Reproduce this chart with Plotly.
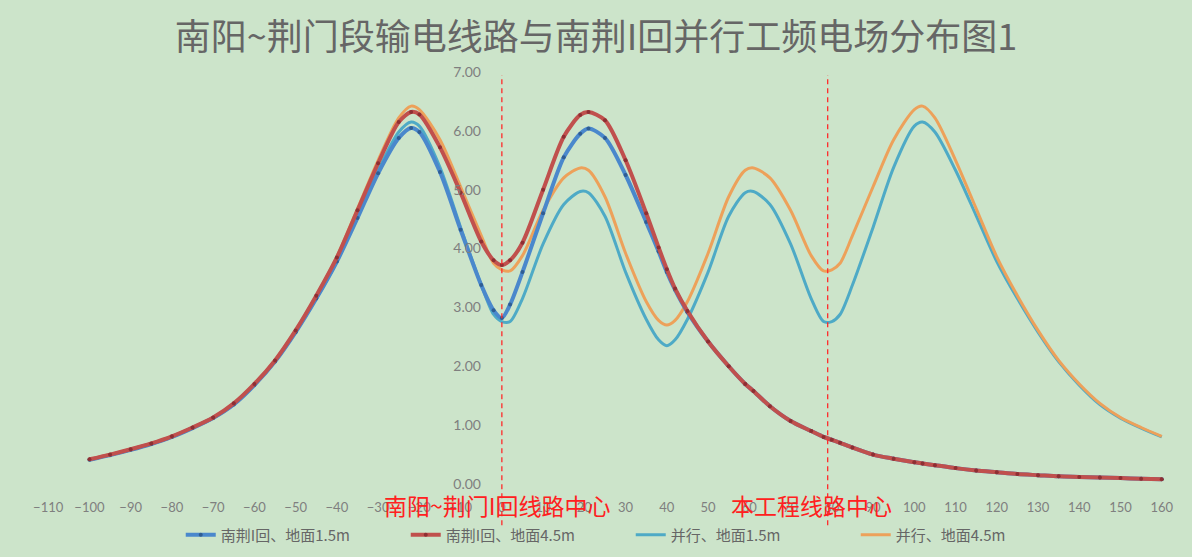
import plotly.graph_objects as go

# Distance from the Nanjing I line centre (m)
dist_m = [-100, -95, -90, -85, -80, -75, -70, -65, -60, -55, -50, -45, -40, -35, -30, -25,
          -22, -20, -15, -10, -5, -2, 0, 2, 5, 10, 15, 19, 21, 25, 30, 35, 38, 40, 42, 45,
          50, 55, 59, 61, 65, 70, 75, 78, 80, 82, 85, 90, 95, 100, 102, 105, 110, 115, 120,
          125, 130, 135, 140, 145, 150, 155, 160]

# Power-frequency electric field (kV/m)
nanjing_1p5 = [0.41, 0.49, 0.58, 0.68, 0.80, 0.95, 1.12, 1.35, 1.68, 2.08, 2.58, 3.15, 3.78, 4.52, 5.28, 5.88,
               6.05, 5.98, 5.30, 4.32, 3.38, 2.95, 2.82, 3.05, 3.60, 4.60, 5.55, 5.95, 6.04, 5.88, 5.25, 4.45, 3.95, 3.60, 3.30, 2.92,
               2.42, 2.00, 1.70, 1.58, 1.32, 1.07, 0.90, 0.80, 0.75, 0.70, 0.62, 0.50, 0.43, 0.37, 0.35, 0.32, 0.27, 0.23, 0.20,
               0.17, 0.15, 0.13, 0.12, 0.11, 0.10, 0.09, 0.08]

nanjing_4p5 = [0.42, 0.50, 0.59, 0.69, 0.81, 0.96, 1.13, 1.37, 1.70, 2.10, 2.61, 3.20, 3.85, 4.65, 5.45, 6.15,
               6.32, 6.28, 5.72, 4.95, 4.12, 3.80, 3.72, 3.80, 4.10, 5.00, 5.90, 6.27, 6.32, 6.18, 5.50, 4.60, 4.02, 3.65, 3.32, 2.94,
               2.42, 2.00, 1.70, 1.58, 1.32, 1.07, 0.90, 0.80, 0.75, 0.70, 0.62, 0.50, 0.43, 0.37, 0.35, 0.32, 0.27, 0.23, 0.20,
               0.17, 0.15, 0.13, 0.12, 0.11, 0.10, 0.09, 0.08]

parallel_1p5 = [0.41, 0.49, 0.58, 0.68, 0.80, 0.95, 1.12, 1.35, 1.68, 2.08, 2.58, 3.15, 3.78, 4.56, 5.33, 5.98,
                6.15, 6.08, 5.38, 4.36, 3.38, 2.88, 2.76, 2.76, 3.15, 4.08, 4.75, 4.97, 4.95, 4.55, 3.60, 2.80, 2.45, 2.35, 2.45, 2.80,
                3.60, 4.55, 4.95, 4.97, 4.75, 4.08, 3.15, 2.76, 2.76, 2.88, 3.38, 4.36, 5.38, 6.08, 6.15, 5.98, 5.33, 4.56, 3.78,
                3.15, 2.58, 2.08, 1.68, 1.35, 1.12, 0.95, 0.80]

parallel_4p5 = [0.42, 0.50, 0.59, 0.69, 0.81, 0.96, 1.13, 1.37, 1.70, 2.10, 2.61, 3.20, 3.86, 4.68, 5.50, 6.22,
                6.42, 6.36, 5.85, 5.05, 4.22, 3.75, 3.64, 3.62, 3.88, 4.65, 5.20, 5.37, 5.33, 4.88, 3.92, 3.10, 2.78, 2.70, 2.78, 3.10,
                3.92, 4.88, 5.33, 5.37, 5.20, 4.65, 3.88, 3.62, 3.64, 3.75, 4.22, 5.05, 5.85, 6.36, 6.42, 6.22, 5.50, 4.68, 3.86,
                3.20, 2.61, 2.10, 1.70, 1.37, 1.13, 0.96, 0.81]

x_ticks = list(range(-110, 161, 10))
y_ticks = [0, 1, 2, 3, 4, 5, 6, 7]
y_tick_text = ["0.00", "1.00", "2.00", "3.00", "4.00", "5.00", "6.00", "7.00"]

centre_lines = [0, 79]
centre_labels = ["南阳~荆门I回线路中心", "本工程线路中心"]
centre_label_x = [-1, 75]

BG = "#cce4ca"
GREY = "#7f7f7f"
TXT = "#666666"

fig = go.Figure()

fig.add_trace(go.Scatter(
    x=dist_m, y=parallel_1p5, name="并行、地面1.5m", mode="lines",
    line=dict(color="#4eaac6", width=3, shape="spline", smoothing=0.8),
    legendrank=3))
fig.add_trace(go.Scatter(
    x=dist_m, y=parallel_4p5, name="并行、地面4.5m", mode="lines",
    line=dict(color="#eda15a", width=3, shape="spline", smoothing=0.8),
    legendrank=4))
fig.add_trace(go.Scatter(
    x=dist_m, y=nanjing_1p5, name="南荆I回、地面1.5m", mode="lines+markers",
    line=dict(color="#4a88cc", width=4, shape="spline", smoothing=0.8),
    marker=dict(color="#2f5d93", size=4),
    legendrank=1))
fig.add_trace(go.Scatter(
    x=dist_m, y=nanjing_4p5, name="南荆I回、地面4.5m", mode="lines+markers",
    line=dict(color="#c0504d", width=4, shape="spline", smoothing=0.8),
    marker=dict(color="#8e2f33", size=4),
    legendrank=2))

shapes = []
for cx in centre_lines:
    shapes.append(dict(type="line", xref="x", yref="paper", x0=cx, x1=cx,
                       y0=-0.1, y1=0.993,
                       line=dict(color="#ff2a2a", width=1.3, dash="5px,4px")))

annotations = []
for lx, txt in zip(centre_label_x, centre_labels):
    annotations.append(dict(x=lx, y=-0.052, xref="x", yref="paper", text=txt,
                            showarrow=False, xanchor="center", yanchor="middle",
                            font=dict(family="Noto Sans CJK SC", size=23, color="#ff2020")))

fig.update_layout(
    width=1192, height=557,
    margin=dict(l=42, r=22, t=72, b=73, autoexpand=False),
    paper_bgcolor=BG, plot_bgcolor=BG,
    font=dict(family="Noto Sans CJK SC, Lato, sans-serif", color=TXT),
    title=dict(text="南阳~荆门段输电线路与南荆I回并行工频电场分布图1",
               x=0.5, xanchor="center", y=1 - 37 / 557, yanchor="middle",
               font=dict(family="Noto Sans CJK SC", size=36, color=TXT)),
    xaxis=dict(range=[-111.5, 162], tickvals=x_ticks, showgrid=False, zeroline=False,
               showline=False, ticks="", ticklabelstandoff=14,
               tickfont=dict(family="Lato", size=13, color=GREY)),
    yaxis=dict(range=[0, 7], tickvals=y_ticks, ticktext=y_tick_text, showgrid=False,
               zeroline=False, showline=False, ticks="", anchor="free",
               position=(481 - 42) / 1128,
               tickfont=dict(family="Lato", size=14, color=GREY)),
    legend=dict(orientation="h", x=0.123, xanchor="left",
                yref="container", y=1 - 535 / 557, yanchor="middle",
                bgcolor="rgba(0,0,0,0)", entrywidth=180, entrywidthmode="pixels",
                font=dict(family="Noto Sans CJK SC", size=15, color=TXT)),
    shapes=shapes,
    annotations=annotations,
    showlegend=True,
)

fig.write_html("out.html")
